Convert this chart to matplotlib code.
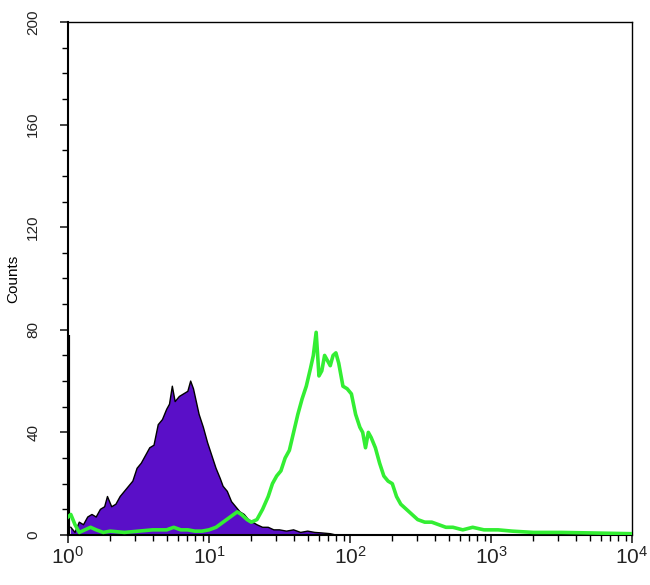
import numpy as np
import matplotlib.pyplot as plt
from matplotlib.ticker import LogLocator, MultipleLocator, FixedLocator

plt.rcParams['font.family'] = ['Liberation Sans', 'DejaVu Sans']
plt.rcParams['mathtext.fontset'] = 'custom'
plt.rcParams['mathtext.rm'] = 'Liberation Sans'
plt.rcParams['mathtext.it'] = 'Liberation Sans'
plt.rcParams['mathtext.default'] = 'regular'

# isotype control (filled), positions in decades of intensity
control_decades = [0.02, 0.05, 0.08, 0.11, 0.14, 0.17, 0.20, 0.23, 0.26, 0.28,
                   0.31, 0.34, 0.37, 0.40, 0.43, 0.46, 0.49, 0.52, 0.55, 0.58,
                   0.61, 0.64, 0.67, 0.70, 0.72, 0.74, 0.76, 0.79, 0.82, 0.85,
                   0.87, 0.89, 0.91, 0.93, 0.96, 0.99, 1.02, 1.05, 1.08, 1.10,
                   1.13, 1.16, 1.19, 1.22, 1.25, 1.28, 1.31, 1.34, 1.38, 1.42,
                   1.46, 1.50, 1.55, 1.60, 1.65, 1.70, 1.75, 1.80, 1.86, 1.90]
control_counts = [3, 1, 5, 4, 7, 8, 7, 10, 11, 15,
                  11, 12, 15, 17, 19, 21, 26, 28, 31, 34,
                  35, 43, 45, 49, 51, 58, 52, 54, 55, 56,
                  60, 57, 52, 47, 42, 36, 31, 26, 22, 19,
                  17, 13, 11, 9, 8, 6, 5, 4, 3, 3,
                  2, 2, 1.5, 2, 1, 1.5, 1, 0.8, 0.5, 0]
control_edge = 78  # pile-up in first channel

# antibody stained sample (green line)
sample_decades = [0.00, 0.02, 0.05, 0.08, 0.12, 0.16, 0.20, 0.25, 0.30, 0.40,
                  0.50, 0.60, 0.70, 0.75, 0.80, 0.85, 0.90, 0.95, 1.00, 1.05,
                  1.10, 1.15, 1.20, 1.23, 1.27, 1.30, 1.34, 1.38, 1.42, 1.45,
                  1.48, 1.51, 1.54, 1.57, 1.60, 1.63, 1.66, 1.69, 1.72, 1.74,
                  1.76, 1.78, 1.80, 1.82, 1.84, 1.86, 1.88, 1.90, 1.92, 1.95,
                  1.98, 2.01, 2.04, 2.07, 2.09, 2.11, 2.13, 2.15, 2.18, 2.21,
                  2.24, 2.27, 2.30, 2.33, 2.36, 2.40, 2.44, 2.48, 2.53, 2.58,
                  2.63, 2.68, 2.73, 2.80, 2.87, 2.95, 3.05, 3.15, 3.30, 3.50,
                  3.70, 4.00]
sample_counts = [7, 8, 4, 1, 2, 3, 2, 1, 1.5, 1,
                 1.5, 2, 2, 3, 2, 2, 1.5, 1.5, 2, 3,
                 5, 7, 9, 8, 6, 5, 6, 10, 15, 20,
                 23, 25, 30, 33, 40, 47, 53, 58, 65, 70,
                 79, 62, 64, 70, 68, 66, 70, 71, 67, 58,
                 57, 55, 47, 42, 40, 34, 40, 38, 34, 28,
                 23, 21, 20, 15, 12, 10, 8, 6, 5, 5,
                 4, 3, 3, 2, 3, 2, 2, 1.5, 1, 1,
                 0.8, 0.5]

control_x = 10.0 ** np.array(control_decades)
sample_x = 10.0 ** np.array(sample_decades)

fig = plt.figure(figsize=(6.5, 5.85), dpi=100)
ax = fig.add_axes([0.1046, 0.0855, 0.8677, 0.877])

ax.fill_between(control_x, control_counts, 0,
                facecolor='#5a0fc8', edgecolor='none', zorder=2)
ax.plot(control_x, control_counts, color='black', linewidth=1.0, zorder=3)
ax.vlines(1.0, 0, control_edge, color='black', linewidth=3, zorder=3)
ax.plot(sample_x, sample_counts, color='#33ee33', linewidth=2.6, zorder=4)

ax.set_xscale('log')
ax.set_xlim(1, 1e4)
ax.set_ylim(0, 200)

ax.xaxis.set_major_locator(FixedLocator([1, 10, 100, 1000, 10000]))
ax.xaxis.set_minor_locator(LogLocator(base=10, subs=np.arange(2, 10), numticks=20))
ax.set_xticklabels(['$10^0$', '$10^1$', '$10^2$', '$10^3$', '$10^4$'])
ax.yaxis.set_major_locator(MultipleLocator(40))
ax.yaxis.set_minor_locator(MultipleLocator(10))

ax.tick_params(axis='x', which='major', direction='out', length=6, width=1.2,
               labelsize=15, pad=2, colors='#222222')
ax.tick_params(axis='x', which='minor', direction='out', length=4, width=1.0)
ax.tick_params(axis='y', which='major', direction='out', length=6, width=1.2,
               labelsize=11, pad=14, labelrotation=90, colors='#222222')
ax.tick_params(axis='y', which='minor', direction='out', length=4, width=1.0)
for lbl in ax.get_yticklabels():
    lbl.set_va('center')

ax.set_ylabel('Counts', fontsize=11, labelpad=4)

for side in ['left', 'bottom']:
    ax.spines[side].set_linewidth(1.5)
for side in ['top', 'right']:
    ax.spines[side].set_linewidth(1.0)

fig.savefig('out.png', dpi=100)
